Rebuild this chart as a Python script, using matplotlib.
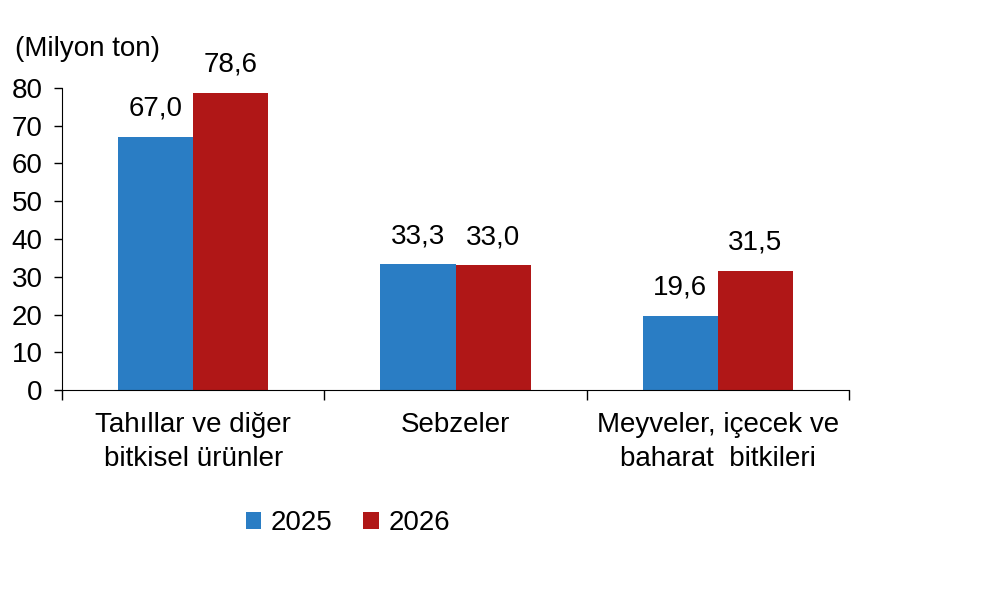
import matplotlib.pyplot as plt
import numpy as np

plt.rcParams['font.family'] = ['Liberation Sans', 'DejaVu Sans']

kategoriler = ['Tahıllar ve diğer\nbitkisel ürünler', 'Sebzeler', 'Meyveler, içecek ve\nbaharat  bitkileri']
yillar = ['2025', '2026']
degerler_2025 = [67.0, 33.3, 19.6]
degerler_2026 = [78.6, 33.0, 31.5]
renkler = ['#2a7dc4', '#b01717']

fs = 20

fig = plt.figure(figsize=(10, 5.93), dpi=100)
ax = fig.add_axes([0.062, 0.342, 0.787, 0.51])

x = np.arange(len(kategoriler))
w = 0.286
b1 = ax.bar(x - w / 2, degerler_2025, w, color=renkler[0], label=yillar[0])
b2 = ax.bar(x + w / 2, degerler_2026, w, color=renkler[1], label=yillar[1])

for bars in (b1, b2):
    for r in bars:
        ax.annotate(f'{r.get_height():.1f}'.replace('.', ','),
                    (r.get_x() + r.get_width() / 2, r.get_height()),
                    xytext=(0, 11), textcoords='offset points',
                    ha='center', va='bottom', fontsize=fs)

ax.set_xlim(-0.5, len(kategoriler) - 0.5)
ax.set_ylim(0, 80)
ax.set_yticks(range(0, 81, 10))
ax.tick_params(axis='y', labelsize=fs, length=6, width=1, pad=8)

# kategori sınırlarında işaret çizgileri
ax.set_xticks(np.arange(-0.5, len(kategoriler), 1))
ax.set_xticklabels([])
ax.tick_params(axis='x', length=7, width=1, direction='out')
for i, k in enumerate(kategoriler):
    ax.text(i, -5.8, k, ha='center', va='top', fontsize=fs, linespacing=1.38)

ax.spines['top'].set_visible(False)
ax.spines['right'].set_visible(False)

fig.text(0.015, 0.918, '(Milyon ton)', fontsize=fs, ha='left', va='center')

fig.legend(handles=[b1, b2], labels=yillar, loc='center', bbox_to_anchor=(0.348, 0.118),
           ncol=2, frameon=False, fontsize=fs, handlelength=0.55, handleheight=0.55,
           handletextpad=0.35, columnspacing=1.1)

fig.savefig('out.png', dpi=100)
